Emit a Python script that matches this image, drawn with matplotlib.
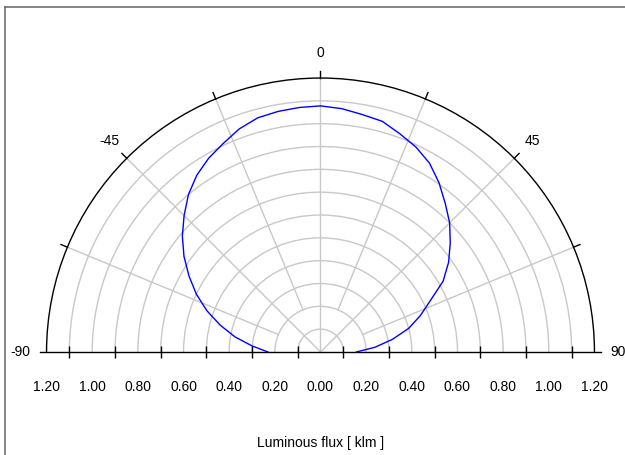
import numpy as np
import matplotlib
matplotlib.use("Agg")
import matplotlib.pyplot as plt
from matplotlib.patches import Arc
from matplotlib.lines import Line2D
from matplotlib.ticker import FixedLocator, FuncFormatter

plt.rcParams['font.family'] = ['Liberation Sans', 'DejaVu Sans']

# ---- data ----
angles_deg = [-90, -85, -80, -75, -70, -65, -60, -55, -50, -45, -40, -35, -30, -25, -20, -15, -10, -5,
              0, 5, 10, 15, 20, 25, 30, 35, 40, 45, 50, 55, 60, 65, 70, 75, 80, 85, 90]
flux_klm = [0.23, 0.30, 0.38, 0.455, 0.53, 0.60, 0.665, 0.73, 0.79, 0.845, 0.90, 0.945, 0.98, 1.008, 1.04, 1.062, 1.07, 1.075,
            1.078, 1.07, 1.056, 1.046, 1.017, 0.99, 0.955, 0.905, 0.85, 0.80, 0.742, 0.685, 0.62, 0.53, 0.465, 0.40, 0.32, 0.24, 0.157]

grid_radii = [0.1, 0.2, 0.3, 0.4, 0.5, 0.6, 0.7, 0.8, 0.9, 1.0, 1.1]
r_max = 1.2
major_angles = [0, -45, 45]            # radial lines to centre
minor_angles = [-67.5, -22.5, 22.5, 67.5]  # radial lines from r=0.2
arc_tick_angles = [-67.5, -45, -22.5, 0, 22.5, 45, 67.5]
angle_labels = ['-90', '-45', '0', '45', '90']
tick_positions = [-1.1, -0.9, -0.7, -0.5, -0.3, -0.1, 0.1, 0.3, 0.5, 0.7, 0.9, 1.1]
label_positions = [-1.2, -1.0, -0.8, -0.6, -0.4, -0.2, 0.0, 0.2, 0.4, 0.6, 0.8, 1.0, 1.2]
x_title = 'Luminous flux [ klm ]'

W, H = 625, 455
fig = plt.figure(figsize=(W / 100, H / 100), dpi=100)
ax = fig.add_axes([0, 0, 1, 1])
cx, cy, s = 320.5, 352.0, 228.3
ax.set_xlim(-cx / s, (W - cx) / s)
ax.set_ylim(-(H - cy) / s, cy / s)
ax.set_aspect('equal', adjustable='box')
for sp in ['top', 'left', 'right']:
    ax.spines[sp].set_visible(False)
ax.patch.set_alpha(0)

fs = 10
grey = '#c8c8c8'
# grid circles
for r in grid_radii:
    ax.add_patch(Arc((0, 0), 2 * r, 2 * r, theta1=0, theta2=180, color=grey, lw=1.0, zorder=1))
# radial lines
for a in major_angles:
    t = np.deg2rad(a)
    ax.plot([0, r_max * np.sin(t)], [0, r_max * np.cos(t)], color=grey, lw=1.0, zorder=1)
for a in minor_angles:
    t = np.deg2rad(a)
    ax.plot([0.2 * np.sin(t), r_max * np.sin(t)], [0.2 * np.cos(t), r_max * np.cos(t)], color=grey, lw=1.0, zorder=1)
# outer arc
ax.add_patch(Arc((0, 0), 2 * r_max, 2 * r_max, theta1=0, theta2=180, color='black', lw=1.0, zorder=3))
for a in arc_tick_angles:
    t = np.deg2rad(a)
    ax.plot([r_max * np.sin(t), 1.23 * np.sin(t)], [r_max * np.cos(t), 1.23 * np.cos(t)], color='black', lw=1.0, zorder=3)

# baseline axis
ax.spines['bottom'].set_position(('data', 0))
ax.spines['bottom'].set_bounds(-1.23, 1.23)
ax.spines['bottom'].set_color('black')
ax.spines['bottom'].set_linewidth(1.0)
ax.spines['bottom'].set_zorder(4)
ax.xaxis.set_major_locator(FixedLocator(tick_positions))
ax.xaxis.set_major_formatter(FuncFormatter(lambda v, p: ''))
ax.xaxis.set_minor_locator(FixedLocator(label_positions))
ax.xaxis.set_minor_formatter(FuncFormatter(lambda v, p: f'{abs(v):.2f}'))
ax.tick_params(axis='x', which='major', direction='inout', length=8, width=1, color='black')
ax.tick_params(axis='x', which='minor', length=0, pad=20, labelsize=fs)
ax.yaxis.set_visible(False)

# curve
th = np.deg2rad(np.array(angles_deg))
rr = np.array(flux_klm)
ax.plot(rr * np.sin(th), rr * np.cos(th), color='#0000ff', lw=1.0, zorder=5)

# angle labels
lab_r = 1.31
ax.text(0, lab_r, angle_labels[2], ha='center', va='center', fontsize=fs)
ax.text(-lab_r * np.sin(np.pi / 4), lab_r * np.cos(np.pi / 4), angle_labels[1], ha='center', va='center', fontsize=fs)
ax.text(lab_r * np.sin(np.pi / 4), lab_r * np.cos(np.pi / 4), angle_labels[3], ha='center', va='center', fontsize=fs)
ax.text(-1.272, 0, angle_labels[0], ha='right', va='center', fontsize=fs)
ax.text(1.268, 0, angle_labels[4], ha='left', va='center', fontsize=fs)

ax.text(0, -(443 - cy) / s, x_title, ha='center', va='center', fontsize=fs)

# outer frame
fig.add_artist(Line2D([5 / W, 5 / W], [0, 1 - 7 / H], transform=fig.transFigure, color='#707070', lw=1.2))
fig.add_artist(Line2D([5 / W, 1], [1 - 7 / H, 1 - 7 / H], transform=fig.transFigure, color='#707070', lw=1.2))

fig.savefig('out.png', dpi=100)
